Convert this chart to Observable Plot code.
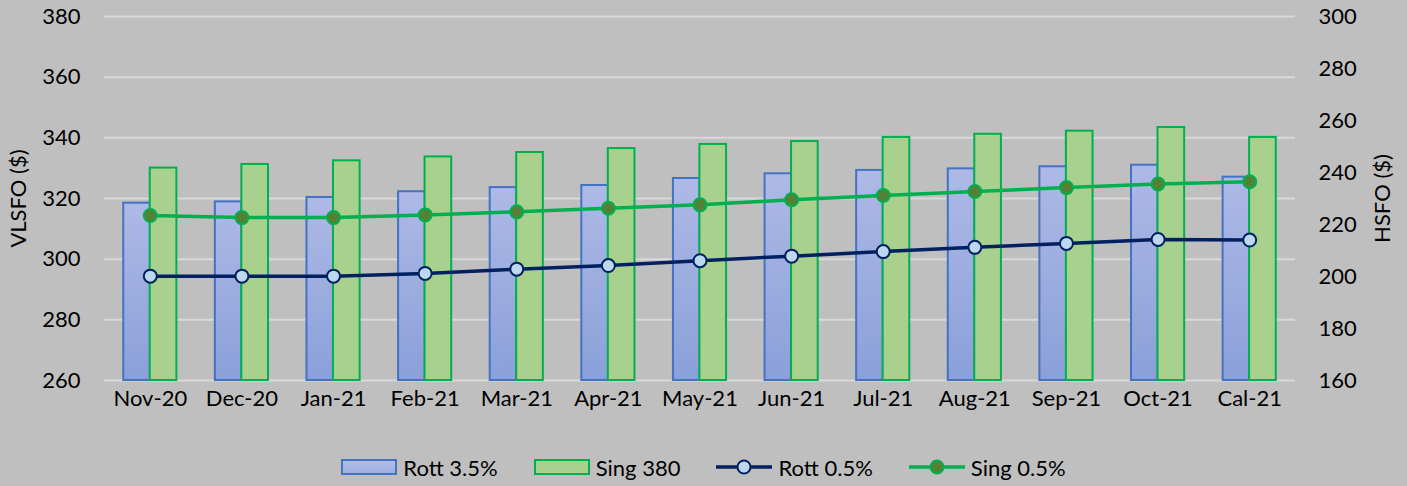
<!DOCTYPE html>
<html>
<head>
<meta charset="utf-8">
<script src="https://cdn.jsdelivr.net/npm/d3@7"></script>
<script src="https://cdn.jsdelivr.net/npm/@observablehq/plot@0.6"></script>
<style>
html, body { margin: 0; padding: 0; background: #bfbfbf; }
body { width: 1407px; height: 486px; overflow: hidden; font-family: Lato, sans-serif; }
#legend { display: flex; justify-content: center; align-items: center; height: 46px; padding-top: 4px; font-size: 22px; color: #000; }
.item { display: flex; align-items: center; margin: 0 18px; }
.item svg { margin-right: 6px; }
</style>
</head>
<body>
<div id="chart"></div>
<div id="legend"></div>
<script>
const categories = ["Nov-20","Dec-20","Jan-21","Feb-21","Mar-21","Apr-21","May-21","Jun-21","Jul-21","Aug-21","Sep-21","Oct-21","Cal-21"];
// HSFO (right axis) bars
const rott35 = [228.2, 228.7, 230.4, 232.6, 234.2, 235.0, 237.7, 239.5, 240.8, 241.4, 242.2, 242.8, 238.2];
const sing380 = [241.7, 243.1, 244.5, 246.0, 247.7, 249.2, 250.8, 251.9, 253.5, 254.7, 255.9, 257.3, 253.5];
// VLSFO (left axis) lines
const rott05 = [294.4, 294.4, 294.4, 295.3, 296.7, 297.9, 299.5, 301.0, 302.5, 303.9, 305.2, 306.5, 306.3];
const sing05 = [314.4, 313.7, 313.7, 314.6, 315.6, 316.8, 317.9, 319.6, 321.0, 322.3, 323.6, 324.8, 325.5];
const vlsfoTicks = [260, 280, 300, 320, 340, 360, 380];
const hsfoTicks = [160, 180, 200, 220, 240, 260, 280, 300];
const seriesNames = ["Rott 3.5%", "Sing 380", "Rott 0.5%", "Sing 0.5%"];
const axisTitles = ["VLSFO ($)", "HSFO ($)"];

const L0 = vlsfoTicks[0], L1 = vlsfoTicks[vlsfoTicks.length - 1];
const H0 = hsfoTicks[0], H1 = hsfoTicks[hsfoTicks.length - 1];
const toLeft = h => L0 + (h - H0) * (L1 - L0) / (H1 - H0);
const fromLeft = v => Math.round(H0 + (v - L0) * (H1 - H0) / (L1 - L0));

const rows = categories.map((c, i) => ({
  cat: c,
  rott35: toLeft(rott35[i]),
  sing380: toLeft(sing380[i]),
  rott05: rott05[i],
  sing05: sing05[i]
}));

const halfBar = 26.5;

const chart = Plot.plot({
  width: 1407,
  height: 440,
  marginLeft: 104,
  marginRight: 112,
  marginTop: 16,
  marginBottom: 60,
  style: { background: "transparent", fontFamily: "Lato, sans-serif", fontSize: "22px", color: "#000", overflow: "visible" },
  x: { domain: categories, paddingInner: 0.42, paddingOuter: 0.21, round: false, label: null },
  y: { domain: [L0, L1] },
  marks: [
    Plot.gridY(vlsfoTicks, { stroke: "#d9d9d9", strokeOpacity: 1, strokeWidth: 2 }),
    Plot.axisY(vlsfoTicks, { anchor: "left", tickSize: 0, tickPadding: 24, label: axisTitles[0], labelAnchor: "center", labelOffset: 94, labelArrow: "none" }),
    Plot.axisY(hsfoTicks.map(toLeft), { anchor: "right", tickSize: 0, tickPadding: 23, tickFormat: fromLeft, label: axisTitles[1], labelAnchor: "center", labelOffset: 94, labelArrow: "none" }),
    Plot.axisX({ tickSize: 0, tickPadding: 10, label: null }),
    Plot.barY(rows, { x: "cat", y1: L0, y2: "rott35", fill: "url(#blueGrad)", stroke: "#4472c4", strokeWidth: 2, insetRight: halfBar, insetLeft: 0 }),
    Plot.barY(rows, { x: "cat", y1: L0, y2: "sing380", fill: "#a9d18e", stroke: "#00b050", strokeWidth: 2, insetLeft: halfBar, insetRight: 0 }),
    Plot.line(rows, { x: "cat", y: "rott05", stroke: "#002060", strokeWidth: 3.5 }),
    Plot.dot(rows, { x: "cat", y: "rott05", r: 6.5, fill: "#bdd7ee", stroke: "#002060", strokeWidth: 2 }),
    Plot.line(rows, { x: "cat", y: "sing05", stroke: "#00b050", strokeWidth: 3.5 }),
    Plot.dot(rows, { x: "cat", y: "sing05", r: 6.5, fill: "#548235", stroke: "#00b050", strokeWidth: 2 })
  ]
});

const defs = d3.select(chart).insert("defs", ":first-child");
const grad = defs.append("linearGradient").attr("id", "blueGrad").attr("x1", 0).attr("y1", 0).attr("x2", 0).attr("y2", 1);
grad.append("stop").attr("offset", "0%").attr("stop-color", "#aeb9e6");
grad.append("stop").attr("offset", "100%").attr("stop-color", "#8aa0d9");

document.getElementById("chart").appendChild(chart);

// Legend
const legend = d3.select("#legend");
const swatches = [
  { type: "bar", fill: "url(#blueGradL)", stroke: "#4472c4" },
  { type: "bar", fill: "#a9d18e", stroke: "#00b050" },
  { type: "line", line: "#002060", fill: "#bdd7ee", stroke: "#002060" },
  { type: "line", line: "#00b050", fill: "#548235", stroke: "#00b050" }
];
seriesNames.forEach((name, i) => {
  const s = swatches[i];
  const item = legend.append("div").attr("class", "item");
  const svg = item.append("svg").attr("width", 56).attr("height", 18);
  if (i === 0) {
    const g = svg.append("defs").append("linearGradient").attr("id", "blueGradL").attr("x1", 0).attr("y1", 0).attr("x2", 0).attr("y2", 1);
    g.append("stop").attr("offset", "0%").attr("stop-color", "#b4bfe8");
    g.append("stop").attr("offset", "100%").attr("stop-color", "#9cafe0");
  }
  if (s.type === "bar") {
    svg.append("rect").attr("x", 1).attr("y", 2).attr("width", 54).attr("height", 14).attr("fill", s.fill).attr("stroke", s.stroke).attr("stroke-width", 2);
  } else {
    svg.append("line").attr("x1", 0).attr("x2", 56).attr("y1", 9).attr("y2", 9).attr("stroke", s.line).attr("stroke-width", 3.5);
    svg.append("circle").attr("cx", 28).attr("cy", 9).attr("r", 6.5).attr("fill", s.fill).attr("stroke", s.stroke).attr("stroke-width", 2);
  }
  item.append("span").text(name);
});
</script>
</body>
</html>
